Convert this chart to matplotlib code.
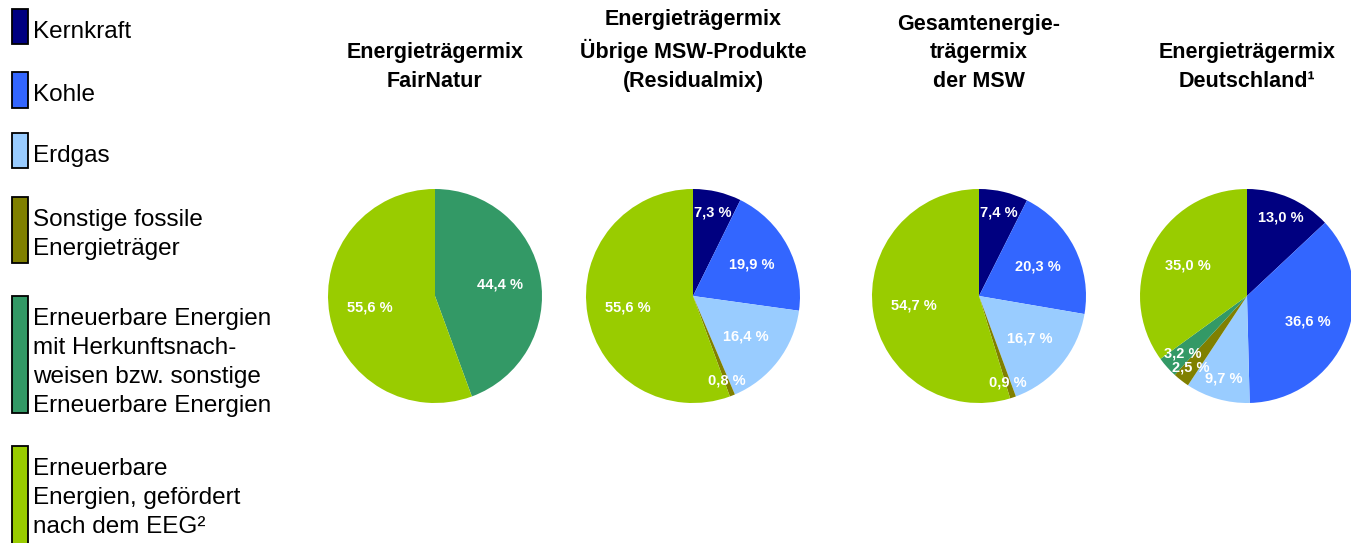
import numpy as np
import matplotlib
matplotlib.use('Agg')
import matplotlib.pyplot as plt
from matplotlib.patches import Rectangle

plt.rcParams['font.family'] = ['Liberation Sans', 'DejaVu Sans']

# legend categories (same order as the pie slices)
categories = ['Kernkraft', 'Kohle', 'Erdgas',
              'Sonstige fossile\nEnergieträger',
              'Erneuerbare Energien\nmit Herkunftsnach-\nweisen bzw. sonstige\nErneuerbare Energien',
              'Erneuerbare\nEnergien, gefördert\nnach dem EEG²']
colors = ['#000080', '#3366FF', '#99CCFF', '#808000', '#339966', '#99CC00']

# shares in %
fairnatur = [0, 0, 0, 0, 44.4, 55.6]
residualmix = [7.3, 19.9, 16.4, 0.8, 0, 55.6]
msw_gesamt = [7.4, 20.3, 16.7, 0.9, 0, 54.7]
deutschland = [13.0, 36.6, 9.7, 2.5, 3.2, 35.0]

titles = ['Energieträgermix\nFairNatur',
          'Energieträgermix\nÜbrige MSW-Produkte\n(Residualmix)',
          'Gesamtenergie-\nträgermix\nder MSW',
          'Energieträgermix\nDeutschland¹']
pies = [fairnatur, residualmix, msw_gesamt, deutschland]

W, H = 1351, 543
fig = plt.figure(figsize=(W / 100, H / 100), dpi=100)

# overlay in pixel coords for legend + titles
ov = fig.add_axes([0, 0, 1, 1])
ov.set_xlim(0, W)
ov.set_ylim(H, 0)
ov.axis('off')

centers = [435, 693, 979, 1247]
cy = 296
R = 107

for cx, vals, title in zip(centers, pies, titles):
    ax = fig.add_axes([(cx - R) / W, (H - cy - R) / H, 2 * R / W, 2 * R / H])
    wedges, _ = ax.pie(vals, colors=colors, startangle=90, counterclock=False,
                       wedgeprops=dict(linewidth=0))
    ax.set_xlim(-1, 1)
    ax.set_ylim(-1, 1)
    for w, v in zip(wedges, vals):
        if v == 0:
            continue
        ang = np.deg2rad((w.theta1 + w.theta2) / 2)
        # small slices get their label further out
        if v < 3:
            d = 0.85
        elif v < 15:
            d = 0.8
        else:
            d = 0.62
        txt = f'{v:.1f}'.replace('.', ',') + ' %'
        ax.text(d * np.cos(ang), d * np.sin(ang), txt, ha='center', va='center',
                color='white', fontsize=10.5, fontweight='bold')
    ov.text(cx, 92, title, ha='center', va='bottom', fontsize=15.5,
            fontweight='bold', linespacing=1.48)

# legend (patch top / bottom in pixels)
leg_boxes = [(9, 44), (72, 108), (133, 168), (197, 263), (296, 413), (446, 560)]
for (y0, y1), lab, c in zip(leg_boxes, categories, colors):
    ov.add_patch(Rectangle((12, y0), 16, y1 - y0, facecolor=c, edgecolor='black',
                           linewidth=1.3, clip_on=True))
    ov.text(33, y0 + 12, lab, ha='left', va='top', fontsize=17.5, linespacing=1.42)

fig.savefig('out.png', dpi=100)
